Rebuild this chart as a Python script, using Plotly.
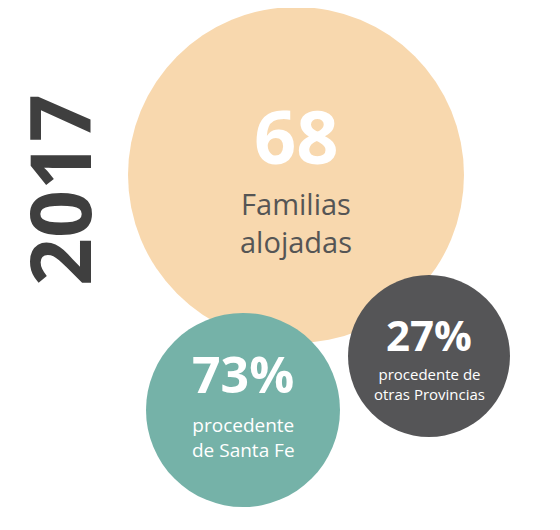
import plotly.graph_objects as go

year = "2017"
values = [68, 73, 27]
value_labels = ["68", "73%", "27%"]
captions = ["Familias<br>alojadas", "procedente<br>de Santa Fe", "procedente de<br>otras Provincias"]
colors = ["#F8D8AE", "#75B2A8", "#555557"]
centers = [(288, 167), (235, 402), (421, 348)]
radii = [168, 97, 81]
num_sizes = [74, 50, 42]
cap_sizes = [29, 19, 15]
num_dy = [-40, -36, -22]
cap_dy = [47, 27, 28]
cap_colors = ["#555555", "white", "white"]

fig = go.Figure()
fig.add_trace(go.Scatter(x=[0, 560], y=[0, 530], mode="markers", marker=dict(opacity=0), hoverinfo="skip"))
for (cx, cy), r, c in zip(centers, radii, colors):
    fig.add_shape(type="circle", x0=cx - r, x1=cx + r, y0=cy - r, y1=cy + r,
                  fillcolor=c, line=dict(width=0), layer="below")
for i, (cx, cy) in enumerate(centers):
    fig.add_annotation(x=cx, y=cy + num_dy[i], text="<b>%s</b>" % value_labels[i], showarrow=False,
                       font=dict(size=num_sizes[i], color="white", family="Open Sans"))
    fig.add_annotation(x=cx, y=cy + cap_dy[i], text=captions[i], showarrow=False,
                       font=dict(size=cap_sizes[i], color=cap_colors[i], family="Open Sans"))
fig.add_annotation(x=50, y=182, text="<b>%s</b>" % year, textangle=-90, showarrow=False,
                   font=dict(size=84, color="#3F3F3F", family="Open Sans"))
fig.update_layout(width=560, height=530, margin=dict(l=0, r=0, t=0, b=0),
                  plot_bgcolor="white", paper_bgcolor="white", showlegend=False,
                  xaxis=dict(range=[0, 560], visible=False),
                  yaxis=dict(range=[530, 0], visible=False))
fig.write_html("out.html")
